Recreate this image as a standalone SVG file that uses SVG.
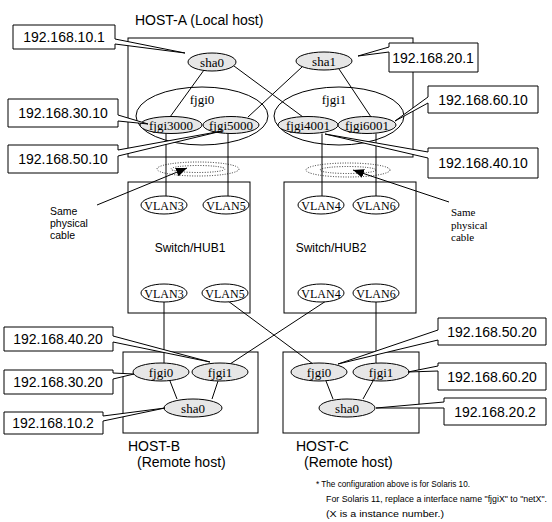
<svg xmlns="http://www.w3.org/2000/svg" width="552" height="522" viewBox="0 0 552 522">
<defs>
<style>
.box{fill:none;stroke:#000;stroke-width:1}
.co{fill:#fff;stroke:#000;stroke-width:1}
.nd{fill:#e6e6e6;stroke:#000;stroke-width:1}
.grp{fill:none;stroke:#000;stroke-width:1}
.vl{fill:#fff;stroke:#000;stroke-width:1}
.ln{fill:none;stroke:#000;stroke-width:1}
.dot{fill:none;stroke:#000;stroke-width:0.8;stroke-dasharray:1 1.5}
.ip{font-family:"Liberation Sans",Arial,sans-serif;font-size:14px;text-anchor:middle;fill:#000}
.sr{font-family:"Liberation Serif","Times New Roman",serif;font-size:13px;text-anchor:middle;fill:#000}
.vt{font-family:"Liberation Serif","Times New Roman",serif;font-size:12px;text-anchor:middle;fill:#000}
.lb{font-family:"Liberation Sans",Arial,sans-serif;font-size:14px;fill:#000}
.sw{font-family:"Liberation Sans",Arial,sans-serif;font-size:12px;text-anchor:middle;fill:#000}
.sm{font-family:"Liberation Sans",Arial,sans-serif;font-size:10.5px;fill:#000}
.smr{font-family:"Liberation Serif","Times New Roman",serif;font-size:11px;fill:#000}
.nt{font-family:"Liberation Sans",Arial,sans-serif;font-size:9.5px;fill:#000}
.nt2{font-family:"Liberation Sans",Arial,sans-serif;font-size:9px;fill:#000}
</style>
<marker id="ah" markerUnits="userSpaceOnUse" markerWidth="11" markerHeight="9" refX="11" refY="4.5" orient="auto">
<path d="M0,0 L11,4.5 L0,9 z" fill="#000"/>
</marker>
</defs>

<!-- containers -->
<g id="host-a">
<rect class="box" x="128" y="38" width="285" height="119"/>
<text class="lb" x="135" y="25">HOST-A (Local host)</text>
</g>
<g id="hub1">
<rect class="box" x="128" y="182" width="122" height="131"/>
<text class="sw" x="190" y="252">Switch/HUB1</text>
</g>
<g id="hub2">
<rect class="box" x="284" y="182" width="132" height="131"/>
<text class="sw" x="331" y="252">Switch/HUB2</text>
</g>
<g id="host-b">
<rect class="box" x="123" y="352" width="135" height="81"/>
<text class="lb" x="128" y="451">HOST-B</text>
<text class="lb" x="137" y="467">(Remote host)</text>
</g>
<g id="host-c">
<rect class="box" x="283" y="352" width="136" height="81"/>
<text class="lb" x="296" y="451">HOST-C</text>
<text class="lb" x="304" y="467">(Remote host)</text>
</g>

<!-- connectors -->
<g id="connectors">
<line class="ln" x1="204" y1="70" x2="170" y2="117"/>
<line class="ln" x1="234" y1="66" x2="303" y2="117"/>
<line class="ln" x1="302" y1="67" x2="248" y2="117"/>
<line class="ln" x1="339" y1="69" x2="371" y2="117"/>
<line class="ln" x1="166" y1="133.5" x2="166" y2="196"/>
<line class="ln" x1="228" y1="133.5" x2="228" y2="196"/>
<line class="ln" x1="322" y1="133.5" x2="322" y2="196"/>
<line class="ln" x1="376" y1="133.5" x2="376" y2="196"/>
<line class="ln" x1="164" y1="302" x2="164" y2="363"/>
<line class="ln" x1="228" y1="301" x2="313" y2="364"/>
<line class="ln" x1="326" y1="301" x2="230" y2="364"/>
<line class="ln" x1="376" y1="302" x2="376" y2="363"/>
<line class="ln" x1="170" y1="381" x2="177" y2="399"/>
<line class="ln" x1="218" y1="381" x2="212" y2="399"/>
<line class="ln" x1="326" y1="381" x2="333" y2="399"/>
<line class="ln" x1="373" y1="381" x2="363" y2="399"/>
<line class="ln" x1="97" y1="205" x2="187" y2="168" marker-end="url(#ah)"/>
<line class="ln" x1="449" y1="202" x2="353" y2="170" marker-end="url(#ah)"/>
</g>

<!-- physical cable bundles -->
<g id="cable-1">
<ellipse class="dot" cx="198" cy="169" rx="41" ry="7"/>
<ellipse class="dot" cx="198" cy="169" rx="27" ry="3.5"/>
</g>
<g id="cable-2">
<ellipse class="dot" cx="348" cy="170" rx="42" ry="7"/>
<ellipse class="dot" cx="348" cy="170" rx="28" ry="3.5"/>
</g>
<g id="label-cable-1">
<text class="sm" x="50" y="215">Same</text>
<text class="sm" x="50" y="227">physical</text>
<text class="sm" x="50" y="239">cable</text>
</g>
<g id="label-cable-2">
<text class="smr" x="451" y="216">Same</text>
<text class="smr" x="451" y="228.5">physical</text>
<text class="smr" x="451" y="241">cable</text>
</g>

<!-- HOST-A nodes -->
<g id="fjgi0-a">
<ellipse class="grp" cx="202" cy="116" rx="66" ry="29"/>
<text class="sr" x="202" y="104">fjgi0</text>
</g>
<g id="fjgi1-a">
<ellipse class="grp" cx="339" cy="116" rx="65" ry="29"/>
<text class="sr" x="334" y="104">fjgi1</text>
</g>
<g id="sha0-a">
<ellipse class="nd" cx="212" cy="62" rx="24" ry="9"/>
<text class="sr" x="212" y="66.5">sha0</text>
</g>
<g id="sha1-a">
<ellipse class="nd" cx="324" cy="61" rx="28" ry="9"/>
<text class="sr" x="324" y="65.5">sha1</text>
</g>
<g id="fjgi3000">
<ellipse class="nd" cx="171" cy="125" rx="31" ry="8.5"/>
<text class="sr" x="171" y="129.5">fjgi3000</text>
</g>
<g id="fjgi5000">
<ellipse class="nd" cx="231" cy="125" rx="28" ry="8.5"/>
<text class="sr" x="231" y="129.5">fjgi5000</text>
</g>
<g id="fjgi4001">
<ellipse class="nd" cx="308" cy="125" rx="30" ry="8.5"/>
<text class="sr" x="308" y="129.5">fjgi4001</text>
</g>
<g id="fjgi6001">
<ellipse class="nd" cx="367" cy="125" rx="29" ry="8.5"/>
<text class="sr" x="367" y="129.5">fjgi6001</text>
</g>

<!-- VLANs -->
<g id="hub1-vlan3-top"><ellipse class="vl" cx="164" cy="205" rx="23" ry="9"/><text class="vt" x="164" y="209.5">VLAN3</text></g>
<g id="hub1-vlan5-top"><ellipse class="vl" cx="226" cy="205" rx="23" ry="9"/><text class="vt" x="226" y="209.5">VLAN5</text></g>
<g id="hub1-vlan3-bot"><ellipse class="vl" cx="164" cy="293" rx="23" ry="9"/><text class="vt" x="164" y="297.5">VLAN3</text></g>
<g id="hub1-vlan5-bot"><ellipse class="vl" cx="225" cy="293" rx="23" ry="9"/><text class="vt" x="225" y="297.5">VLAN5</text></g>
<g id="hub2-vlan4-top"><ellipse class="vl" cx="321" cy="205" rx="23" ry="9"/><text class="vt" x="321" y="209.5">VLAN4</text></g>
<g id="hub2-vlan6-top"><ellipse class="vl" cx="376" cy="205" rx="23" ry="9"/><text class="vt" x="376" y="209.5">VLAN6</text></g>
<g id="hub2-vlan4-bot"><ellipse class="vl" cx="321" cy="293" rx="23" ry="9"/><text class="vt" x="321" y="297.5">VLAN4</text></g>
<g id="hub2-vlan6-bot"><ellipse class="vl" cx="376" cy="293" rx="23" ry="9"/><text class="vt" x="376" y="297.5">VLAN6</text></g>

<!-- HOST-B nodes -->
<g id="fjgi0-b"><ellipse class="nd" cx="161" cy="372" rx="28" ry="9"/><text class="sr" x="161" y="376.5">fjgi0</text></g>
<g id="fjgi1-b"><ellipse class="nd" cx="220" cy="372" rx="28" ry="9"/><text class="sr" x="220" y="376.5">fjgi1</text></g>
<g id="sha0-b"><ellipse class="nd" cx="193" cy="408" rx="29" ry="9"/><text class="sr" x="193" y="412.5">sha0</text></g>

<!-- HOST-C nodes -->
<g id="fjgi0-c"><ellipse class="nd" cx="319" cy="372" rx="28" ry="9"/><text class="sr" x="319" y="376.5">fjgi0</text></g>
<g id="fjgi1-c"><ellipse class="nd" cx="381" cy="372" rx="28" ry="9"/><text class="sr" x="381" y="376.5">fjgi1</text></g>
<g id="sha0-c"><ellipse class="nd" cx="347" cy="408" rx="28" ry="9"/><text class="sr" x="347" y="412.5">sha0</text></g>

<!-- callouts -->
<g id="ip-10-1"><path class="co" d="M13,25 H115 V39 L185,53 L115,44 V49 H13 Z"/><text class="ip" x="64" y="42">192.168.10.1</text></g>
<g id="ip-20-1"><path class="co" d="M389,43 H478 V72 H389 V52 L358,56 L389,47 Z"/><text class="ip" x="433" y="62.5">192.168.20.1</text></g>
<g id="ip-30-10"><path class="co" d="M8,99 H118 V115 L148,124 L118,121 V127 H8 Z"/><text class="ip" x="63" y="118">192.168.30.10</text></g>
<g id="ip-50-10"><path class="co" d="M8,145 H118 V150 L222,131 L118,156 V173 H8 Z"/><text class="ip" x="63" y="164">192.168.50.10</text></g>
<g id="ip-60-10"><path class="co" d="M428,86 H538 V113 H428 V103 L395,121 L428,97 Z"/><text class="ip" x="483" y="104.5">192.168.60.10</text></g>
<g id="ip-40-10"><path class="co" d="M428,148 H538 V178 H428 V158 L325,134 L428,152 Z"/><text class="ip" x="483" y="168">192.168.40.10</text></g>
<g id="ip-40-20"><path class="co" d="M4,327 H113 V336 L210,362 L113,342 V351 H4 Z"/><text class="ip" x="58" y="344">192.168.40.20</text></g>
<g id="ip-30-20"><path class="co" d="M4,370 H113 V373 L134,374 L113,379 V394 H4 Z"/><text class="ip" x="58" y="387">192.168.30.20</text></g>
<g id="ip-10-2"><path class="co" d="M4,412 H103 V416 L165,408 L103,421 V434 H4 Z"/><text class="ip" x="53" y="428">192.168.10.2</text></g>
<g id="ip-50-20"><path class="co" d="M438,318 H546 V345 H438 V340 L338,364 L438,330 Z"/><text class="ip" x="492" y="336.5">192.168.50.20</text></g>
<g id="ip-60-20"><path class="co" d="M438,363 H546 V390 H438 V371 L408,372 L438,366 Z"/><text class="ip" x="492" y="381.5">192.168.60.20</text></g>
<g id="ip-20-2"><path class="co" d="M444,398 H546 V425 H444 V408 L376,408 L444,402 Z"/><text class="ip" x="495" y="416.5">192.168.20.2</text></g>

<!-- note -->
<g id="note">
<text class="nt" x="316" y="487" textLength="154" lengthAdjust="spacingAndGlyphs">* The configuration above is for Solaris 10.</text>
<text class="nt2" x="326" y="502" textLength="221" lengthAdjust="spacingAndGlyphs">For Solaris 11, replace a interface name "fjgiX" to "netX".</text>
<text class="nt" x="326" y="517" textLength="118" lengthAdjust="spacingAndGlyphs">(X is a instance number.)</text>
</g>
</svg>
